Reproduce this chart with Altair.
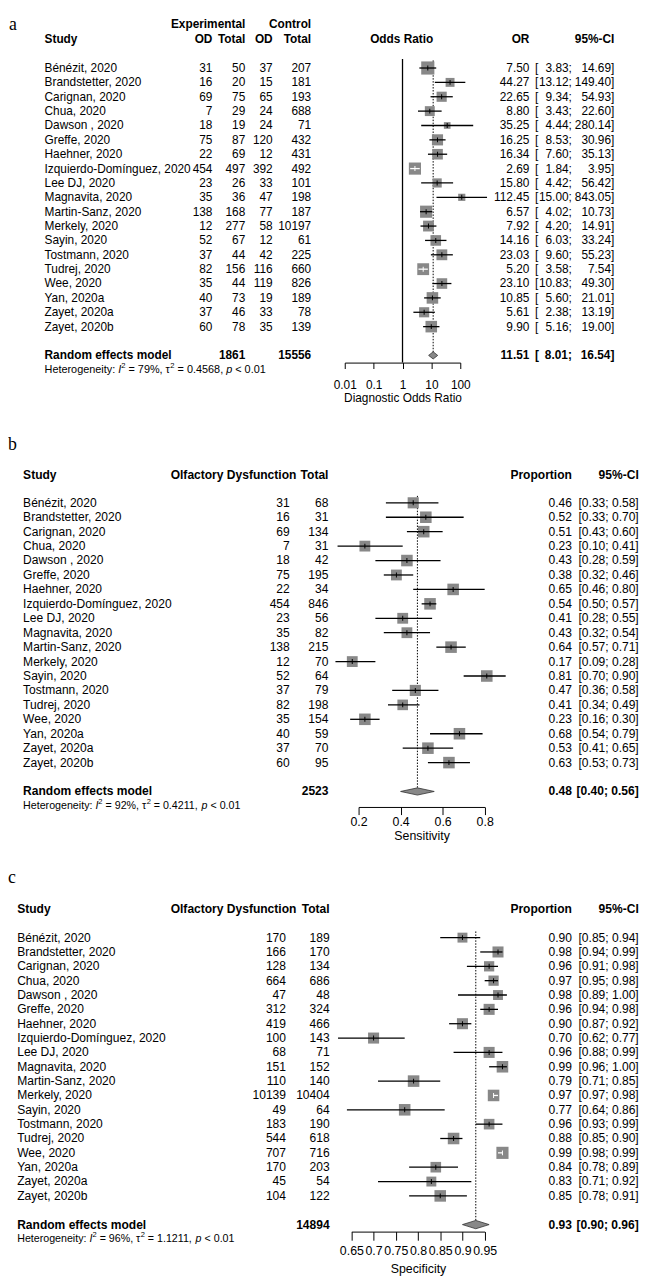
import altair as alt
import pandas as pd

FA = "Liberation Sans, Arial, Helvetica, sans-serif"
FS = "Liberation Serif, Times New Roman, serif"
BOX = "#888888"

# ---------------------------------------------------------------- data
studies = ["Bénézit, 2020", "Brandstetter, 2020", "Carignan, 2020", "Chua, 2020",
           "Dawson , 2020", "Greffe, 2020", "Haehner, 2020", "Izquierdo-Domínguez, 2020",
           "Lee DJ, 2020", "Magnavita, 2020", "Martin-Sanz, 2020", "Merkely, 2020",
           "Sayin, 2020", "Tostmann, 2020", "Tudrej, 2020", "Wee, 2020", "Yan, 2020a",
           "Zayet, 2020a", "Zayet, 2020b"]

# panel a: diagnostic odds ratio
a_exp_od = [31, 16, 69, 7, 18, 75, 22, 454, 23, 35, 138, 12, 52, 37, 82, 35, 40, 37, 60]
a_exp_n = [50, 20, 75, 29, 19, 87, 69, 497, 26, 36, 168, 277, 67, 44, 156, 44, 73, 46, 78]
a_ctl_od = [37, 15, 65, 24, 24, 120, 12, 392, 33, 47, 77, 58, 12, 42, 116, 119, 19, 33, 35]
a_ctl_n = [207, 181, 193, 688, 71, 432, 431, 492, 101, 198, 187, 10197, 61, 225, 660, 826, 189, 78, 139]
a_or = [7.50, 44.27, 22.65, 8.80, 35.25, 16.25, 16.34, 2.69, 15.80, 112.45, 6.57, 7.92, 14.16,
        23.03, 5.20, 23.10, 10.85, 5.61, 9.90]
a_lo = [3.83, 13.12, 9.34, 3.43, 4.44, 8.53, 7.60, 1.84, 4.42, 15.00, 4.02, 4.20, 6.03, 9.60,
        3.58, 10.83, 5.60, 2.38, 5.16]
a_hi = [14.69, 149.40, 54.93, 22.60, 280.14, 30.96, 35.13, 3.95, 56.42, 843.05, 10.73, 14.91,
        33.24, 55.23, 7.54, 49.30, 21.01, 13.19, 19.00]
a_weight = [7.4, 3.4, 4.4, 4.2, 1.9, 5.3, 4.8, 6.3, 3.6, 2.2, 6.3, 5.0, 4.8, 5.0, 6.0, 4.8, 5.7, 4.4, 5.7]
a_ci_white = ["Izquierdo-Domínguez, 2020", "Tudrej, 2020"]
a_pooled = [11.51, 8.01, 16.54]
a_totals = [1861, 15556]
a_het = ["79%", "0.4568"]
a_ticks = [0.01, 0.1, 1, 10, 100]

# panel b: sensitivity
b_od = [31, 16, 69, 7, 18, 75, 22, 454, 23, 35, 138, 12, 52, 37, 82, 35, 40, 37, 60]
b_n = [68, 31, 134, 31, 42, 195, 34, 846, 56, 82, 215, 70, 64, 79, 198, 154, 59, 70, 95]
b_prop = [0.46, 0.52, 0.51, 0.23, 0.43, 0.38, 0.65, 0.54, 0.41, 0.43, 0.64, 0.17, 0.81, 0.47,
          0.41, 0.23, 0.68, 0.53, 0.63]
b_lo = [0.33, 0.33, 0.43, 0.10, 0.28, 0.32, 0.46, 0.50, 0.28, 0.32, 0.57, 0.09, 0.70, 0.36,
        0.34, 0.16, 0.54, 0.41, 0.53]
b_hi = [0.58, 0.70, 0.60, 0.41, 0.59, 0.46, 0.80, 0.57, 0.55, 0.54, 0.71, 0.28, 0.90, 0.58,
        0.49, 0.30, 0.79, 0.65, 0.73]
b_weight = [5.3, 5.7, 5.7, 5.0, 5.7, 5.0, 5.7, 5.7, 5.0, 5.0, 5.7, 5.0, 5.7, 5.3, 4.8, 5.7, 5.7, 5.7, 5.7]
b_ci_white = []
b_pooled = [0.48, 0.40, 0.56]
b_total = 2523
b_het = ["92%", "0.4211"]
b_ticks = [0.2, 0.4, 0.6, 0.8]

# panel c: specificity
c_od = [170, 166, 128, 664, 47, 312, 419, 100, 68, 151, 110, 10139, 49, 183, 544, 707, 170, 45, 104]
c_n = [189, 170, 134, 686, 48, 324, 466, 143, 71, 152, 140, 10404, 64, 190, 618, 716, 203, 54, 122]
c_prop = [0.90, 0.98, 0.96, 0.97, 0.98, 0.96, 0.90, 0.70, 0.96, 0.99, 0.79, 0.97, 0.77, 0.96,
          0.88, 0.99, 0.84, 0.83, 0.85]
c_lo = [0.85, 0.94, 0.91, 0.95, 0.89, 0.94, 0.87, 0.62, 0.88, 0.96, 0.71, 0.97, 0.64, 0.93,
        0.85, 0.98, 0.78, 0.71, 0.78]
c_hi = [0.94, 0.99, 0.98, 0.98, 1.00, 0.98, 0.92, 0.77, 0.99, 1.00, 0.85, 0.98, 0.86, 0.99,
        0.90, 0.99, 0.89, 0.92, 0.91]
c_weight = [4.2, 5.2, 4.5, 4.5, 4.2, 5.2, 5.2, 5.2, 5.2, 5.7, 5.7, 5.7, 5.7, 4.8, 5.7, 6.3, 4.8, 4.2, 5.7]
c_ci_white = ["Merkely, 2020", "Wee, 2020"]
c_pooled = [0.93, 0.90, 0.96]
c_total = 14894
c_het = ["96%", "1.1211"]
c_ticks = [0.65, 0.70, 0.75, 0.80, 0.85, 0.90, 0.95]

W = 641

# ---------------------------------------------------------------- helpers
AW = {'H': 722, 'e': 556, 't': 278, 'r': 333, 'o': 556, 'g': 556, 'n': 556, 'i': 222, 'y': 500,
      ':': 278, ' ': 278, 'I': 278, '=': 584, '%': 889, ',': 278, 'τ': 434, '.': 278, 'p': 556,
      '<': 584}


def tw(s, size):
    return sum(AW.get(ch, 556) for ch in s) / 1000.0 * size


def txt_row(text, x, row, ys, font, size, align="left", weight="normal", style="normal", dy=0):
    d = pd.DataFrame({"row": [row], "t": [text]})
    return alt.Chart(d).mark_text(
        align=align, baseline="middle", font=font, fontSize=size, fontWeight=weight,
        fontStyle=style, color="black", dy=dy
    ).encode(x=alt.value(x), y=alt.Y("row:Q", scale=ys, axis=None), text="t:N")


def abs_text(text, x, y, font, size, baseline="alphabetic"):
    d = pd.DataFrame({"t": [text]})
    return alt.Chart(d).mark_text(
        align="left", baseline=baseline, font=font, fontSize=size, color="black"
    ).encode(x=alt.value(x), y=alt.value(y), text="t:N")


def col(df, field, x, ys, font, size, align="right", weight="normal"):
    return alt.Chart(df).mark_text(
        align=align, baseline="middle", font=font, fontSize=size, fontWeight=weight, color="black"
    ).encode(x=alt.value(x), y=alt.Y("row:Q", scale=ys, axis=None), text=f"{field}:N")


def het_layers(x0, row, ys, font, size, i2, tau2):
    sup = round(size * 0.7, 1)
    up = -round(size * 0.4, 1)
    parts = [("Heterogeneity: ", "normal", size, 0), ("I", "italic", size, 0),
             ("2", "normal", sup, up), (f" = {i2}, τ", "normal", size, 0),
             ("2", "normal", sup, up), (f" = {tau2}, ", "normal", size, 0),
             ("p", "italic", size, 0), (" < 0.01", "normal", size, 0)]
    x = x0
    L = []
    for text, style, sz, dy in parts:
        lead = len(text) - len(text.lstrip(" "))
        L.append(txt_row(text.strip(), round(x + tw(" " * lead, sz), 1), row, ys, font, sz,
                         style=style, dy=dy))
        x += tw(text, sz)
    return L


def forest(df, xs, ys, axis, pooled, dh, dot_top, ref=None):
    def X(f):
        return alt.X(f"{f}:Q", scale=xs, axis=axis)

    def Y(f):
        return alt.Y(f"{f}:Q", scale=ys, axis=None)

    L = []
    if ref is not None:
        r = pd.DataFrame({"x": [ref[0]], "y": [ref[1]], "y2": [ref[2]]})
        L.append(alt.Chart(r).mark_rule(color="black", strokeWidth=1.3).encode(
            x=X("x"), y=Y("y"), y2="y2:Q"))
    d = pd.DataFrame({"x": [pooled[0]], "y": [dot_top], "y2": [20]})
    L.append(alt.Chart(d).mark_rule(color="black", strokeWidth=1, strokeDash=[1.5, 1.5]).encode(
        x=X("x"), y=Y("y"), y2="y2:Q"))
    L.append(alt.Chart(df).mark_square(color=BOX, opacity=1).encode(
        x=X("est"), y=Y("row"),
        size=alt.Size("w:Q", scale=alt.Scale(domain=[0, 10], range=[0, 240]), legend=None)))
    L.append(alt.Chart(df).mark_rule(strokeWidth=1.3).encode(
        x=X("lo"), x2="hi:Q", y=Y("row"), color=alt.Color("lc:N", scale=None)))
    L.append(alt.Chart(df).mark_tick(orient="vertical", size=5, thickness=1, opacity=1).encode(
        x=X("est"), y=Y("row"), color=alt.Color("lc:N", scale=None)))
    dm = pd.DataFrame({"x": [pooled[1], pooled[0], pooled[2]],
                       "y": [20, 20 - dh, 20], "y2": [20, 20 + dh, 20]})
    L.append(alt.Chart(dm).mark_area(orient="vertical", fill=BOX, stroke="#333333",
                                     strokeWidth=0.8, opacity=1).encode(
        x=X("x"), y=Y("y"), y2="y2:Q"))
    return L


def make_axis(values, offset, tick, lpad, title, tpad, font, size):
    return alt.Axis(values=values, format="~g", offset=offset, tickSize=tick, tickWidth=1,
                    tickColor="black", domainColor="black", domainWidth=1, labelColor="black",
                    labelFont=font, labelFontSize=size, labelPadding=lpad, labelFlush=False,
                    labelOverlap=False, title=title, titleFont=font, titleFontSize=size,
                    titleFontWeight="normal", titleColor="black", titlePadding=tpad, grid=False)


# ---------------------------------------------------------------- panel a
def panel_a():
    H = 412
    ys = alt.Scale(domain=[0, 20], range=[52.7, 343.7], nice=False, zero=False)
    xs = alt.Scale(type="log", domain=[0.01, 100], range=[341, 458], nice=False)
    ax = make_axis(a_ticks, -61, 6, 11.5, "Diagnostic Odds Ratio", 1.5, FA, 12)
    df = pd.DataFrame({
        "row": list(range(len(studies))), "study": studies,
        "e_od": [str(v) for v in a_exp_od], "e_n": [str(v) for v in a_exp_n],
        "c_od": [str(v) for v in a_ctl_od], "c_n": [str(v) for v in a_ctl_n],
        "est": a_or, "lo": a_lo, "hi": a_hi, "w": a_weight,
        "lc": ["white" if s in a_ci_white else "black" for s in studies],
        "or_t": [f"{v:.2f}" for v in a_or], "br": ["["] * len(studies),
        "lo_t": [f"{v:.2f};" for v in a_lo], "hi_t": [f"{v:.2f}]" for v in a_hi],
    })
    L = forest(df, xs, ys, ax, a_pooled, 0.25, -0.53, ref=(1, -0.62, 20.49))
    L.append(abs_text("a", 1, 14.5, FS, 18))
    L.append(txt_row("Experimental", 240.3, -3.07, ys, FA, 12, "right", "bold"))
    L.append(txt_row("Control", 307, -3.07, ys, FA, 12, "right", "bold"))
    for t, x, al in [("Study", 37, "left"), ("OD", 207, "right"), ("Total", 240.3, "right"),
                     ("OD", 268, "right"), ("Total", 307, "right"), ("Odds Ratio", 398.7, "center"),
                     ("OR", 528, "right"), ("95%-CI", 614, "right")]:
        L.append(txt_row(t, x, -1.99, ys, FA, 12, al, "bold"))
    L.append(col(df, "study", 37, ys, FA, 12, "left"))
    L.append(col(df, "e_od", 207, ys, FA, 12))
    L.append(col(df, "e_n", 240.3, ys, FA, 12))
    L.append(col(df, "c_od", 268, ys, FA, 12))
    L.append(col(df, "c_n", 307, ys, FA, 12))
    L.append(col(df, "or_t", 528, ys, FA, 12))
    L.append(col(df, "br", 533.7, ys, FA, 12, "left"))
    L.append(col(df, "lo_t", 571, ys, FA, 12))
    L.append(col(df, "hi_t", 614, ys, FA, 12))
    L.append(txt_row("Random effects model", 37, 20, ys, FA, 12, "left", "bold"))
    L.append(txt_row(str(a_totals[0]), 240.3, 20, ys, FA, 12, "right", "bold"))
    L.append(txt_row(str(a_totals[1]), 307, 20, ys, FA, 12, "right", "bold"))
    L.append(txt_row(f"{a_pooled[0]:.2f}", 528, 20, ys, FA, 12, "right", "bold"))
    L.append(txt_row("[", 533.7, 20, ys, FA, 12, "left", "bold"))
    L.append(txt_row(f"{a_pooled[1]:.2f};", 571, 20, ys, FA, 12, "right", "bold"))
    L.append(txt_row(f"{a_pooled[2]:.2f}]", 614, 20, ys, FA, 12, "right", "bold"))
    L += het_layers(37, 21.03, ys, FA, 11, a_het[0], a_het[1])
    return alt.layer(*L).properties(width=W, height=H)


# ---------------------------------------------------------------- panels b, c
def panel_prop(letter, od, n, prop, lo, hi, weight, white, pooled, total, het, ticks, title, p):
    fs = 12.2
    ys = alt.Scale(domain=[0, 20], range=p["yr"], nice=False, zero=False)
    xs = alt.Scale(domain=p["xd"], range=p["xr"], nice=False, zero=False)
    ax = make_axis(ticks, p["off"], p["tick"], p["lpad"], title, p["tpad"], FA, 12.5)
    df = pd.DataFrame({
        "row": list(range(len(studies))), "study": studies,
        "od": [str(v) for v in od], "n": [str(v) for v in n],
        "est": prop, "lo": lo, "hi": hi, "w": weight,
        "lc": ["white" if s in white else "black" for s in studies],
        "p_t": [f"{v:.2f}" for v in prop],
        "ci_t": [f"[{a:.2f}; {b:.2f}]" for a, b in zip(lo, hi)],
    })
    L = forest(df, xs, ys, ax, pooled, p["dh"], p["dtop"])
    L.append(abs_text(letter, 0, 28, FS, 18))
    hr = p["hrow"]
    L.append(txt_row("Study", p["name"], hr, ys, FA, fs, "left", "bold"))
    L.append(txt_row("Olfactory Dysfunction", p["hod"], hr, ys, FA, fs, "right", "bold"))
    L.append(txt_row("Total", p["n"], hr, ys, FA, fs, "right", "bold"))
    L.append(txt_row("Proportion", 571, hr, ys, FA, fs, "right", "bold"))
    L.append(txt_row("95%-CI", 638.7, hr, ys, FA, fs, "right", "bold"))
    L.append(col(df, "study", p["name"], ys, FA, fs, "left"))
    L.append(col(df, "od", p["od"], ys, FA, fs))
    L.append(col(df, "n", p["n"], ys, FA, fs))
    L.append(col(df, "p_t", 571, ys, FA, fs))
    L.append(col(df, "ci_t", 638.7, ys, FA, fs))
    L.append(txt_row("Random effects model", p["name"], 20, ys, FA, fs, "left", "bold"))
    L.append(txt_row(str(total), p["n"], 20, ys, FA, fs, "right", "bold"))
    L.append(txt_row(f"{pooled[0]:.2f}", 571, 20, ys, FA, fs, "right", "bold"))
    L.append(txt_row(f"[{pooled[1]:.2f}; {pooled[2]:.2f}]", 638.7, 20, ys, FA, fs, "right", "bold"))
    L += het_layers(p["name"], p["hetrow"], ys, FA, 10.8, het[0], het[1])
    return alt.layer(*L).properties(width=W, height=p["H"])


pb = dict(H=438, yr=[81, 373.3], xd=[0.2, 0.8], xr=[355, 482.7], off=-49, tick=7.7, lpad=1,
          tpad=1.5, dh=0.25, dtop=-0.48, hrow=-1.94, hetrow=21.03, name=15.3, od=285.3, n=324.5,
          hod=292)
pc = dict(H=427, yr=[83.3, 373.9], xd=[0.65, 0.95], xr=[347.7, 482.7], off=-46, tick=8.7, lpad=4,
          tpad=6, dh=0.29, dtop=-0.43, hrow=-1.98, hetrow=21.0, name=9.3, od=281.5, n=325.7,
          hod=292)

chart_a = panel_a()
chart_b = panel_prop("b", b_od, b_n, b_prop, b_lo, b_hi, b_weight, b_ci_white, b_pooled, b_total,
                     b_het, b_ticks, "Sensitivity", pb)
chart_c = panel_prop("c", c_od, c_n, c_prop, c_lo, c_hi, c_weight, c_ci_white, c_pooled, c_total,
                     c_het, c_ticks, "Specificity", pc)

chart = alt.vconcat(chart_a, chart_b, chart_c, spacing=0).properties(
    padding=0, background="white"
).configure_view(strokeWidth=0)

chart.save("out.html", embed_options={"renderer": "svg", "actions": False})
